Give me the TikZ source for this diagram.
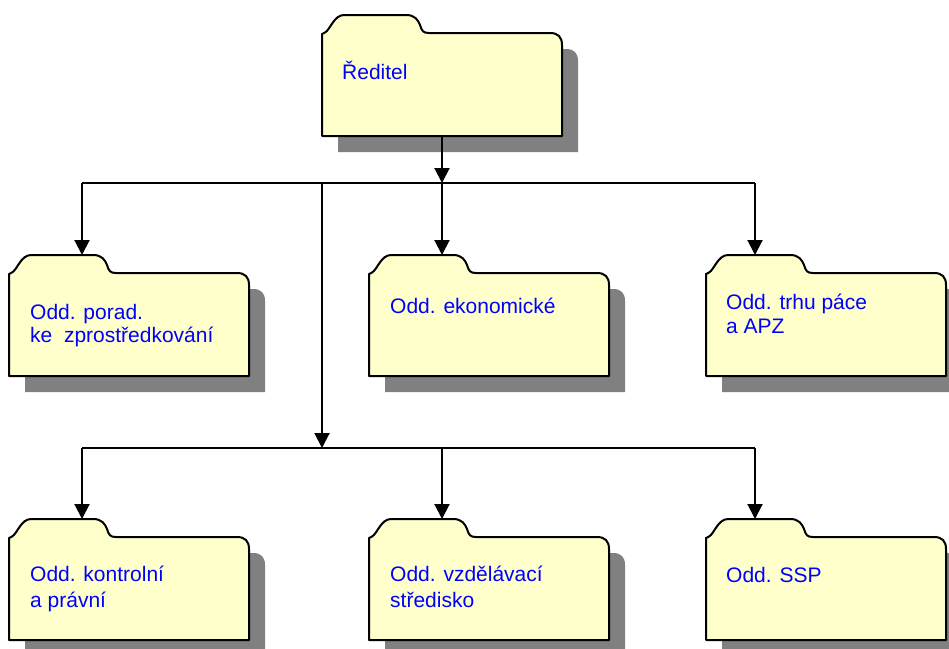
\documentclass[tikz,border=0pt]{standalone}
\usepackage{fontspec}
\setmainfont{Liberation Sans}
\usetikzlibrary{arrows.meta}

\definecolor{folderfill}{RGB}{255,255,204}
\definecolor{shadowgray}{RGB}{128,128,128}
\definecolor{labelblue}{RGB}{0,0,255}

\tikzset{
  folderline/.style={draw=black, line width=2, fill=folderfill, line join=round},
  shadowfill/.style={fill=shadowgray},
  conn/.style={draw=black, line width=2},
  arr/.style={conn, -{Triangle[length=15, width=15]}},
  % labels are placed by the baseline of their last line
  lbl/.style={text=labelblue, font=\fontsize{21}{#1}\selectfont,
              anchor=base west, inner sep=0pt, align=left},
  lbl/.default=24,
  % folder with a tab and a drop shadow; origin = left end of the tab line
  folder/.pic={
    \fill[shadowfill] (16,34) -- (244,34) .. controls (252,34) and (256,38) .. (256,46)
          -- (256,137) -- (16,137) -- cycle;
    \path[folderline] (0,121) -- (0,19) -- (3,17.5)
          .. controls (8,15) and (12,0) .. (22,0) -- (84,0)
          .. controls (93,0) and (96,5) .. (98,10)
          .. controls (100,16) and (101,18) .. (107,18) -- (228,18)
          .. controls (236,18) and (240,22) .. (240,30) -- (240,121) -- cycle;
    \coordinate (-top) at (0,0);
    \coordinate (-bottom) at (120,121);
  }
}

\begin{document}
\begin{tikzpicture}[x=1pt, y=-1pt]
  \useasboundingbox (0,0) rectangle (949,648);
  \clip (0,0) rectangle (949,648);

  % folders
  \pic (red) at (322,15) {folder};
  \pic (por) at (9,255) {folder};
  \pic (eko) at (369,255) {folder};
  \pic (trh) at (706,255) {folder};
  \pic (kon) at (9,519) {folder};
  \pic (vzd) at (369,519) {folder};
  \pic (ssp) at (706,519) {folder};

  % labels
  \node[lbl] (red-t) at (342,79) {Ředitel};
  \node[lbl=23] (por-t) at (30,342) {Odd. porad.\\ke~~zprostředkování};
  \node[lbl] (eko-t) at (390,313) {Odd. ekonomické};
  \node[lbl=24] (trh-t) at (726,333) {Odd. trhu páce\\a APZ};
  \node[lbl=26] (kon-t) at (30,607) {Odd. kontrolní\\a právní};
  \node[lbl=26] (vzd-t) at (390,607) {Odd. vzdělávací\\středisko};
  \node[lbl] (ssp-t) at (726,582) {Odd. SSP};

  % distribution lines
  \coordinate (busA-l) at (82,183);
  \coordinate (busA-m) at (322,183);
  \coordinate (busA-c) at (442,183);
  \coordinate (busA-r) at (755,183);
  \coordinate (busB-l) at (82,448);
  \coordinate (busB-m) at (322,448);
  \coordinate (busB-c) at (442,448);
  \coordinate (busB-r) at (755,448);

  \draw[arr] (red-bottom) -- (busA-c);
  \draw[conn] (busA-l) -- (busA-r);
  \draw[arr] (busA-l) -- (busA-l |- por-top);
  \draw[arr] (busA-c) -- (busA-c |- eko-top);
  \draw[arr] (busA-r) -- (busA-r |- trh-top);
  \draw[arr] (busA-m) -- (busB-m);
  \draw[conn] (busB-l) -- (busB-r);
  \draw[arr] (busB-l) -- (busB-l |- kon-top);
  \draw[arr] (busB-c) -- (busB-c |- vzd-top);
  \draw[arr] (busB-r) -- (busB-r |- ssp-top);
\end{tikzpicture}
\end{document}
